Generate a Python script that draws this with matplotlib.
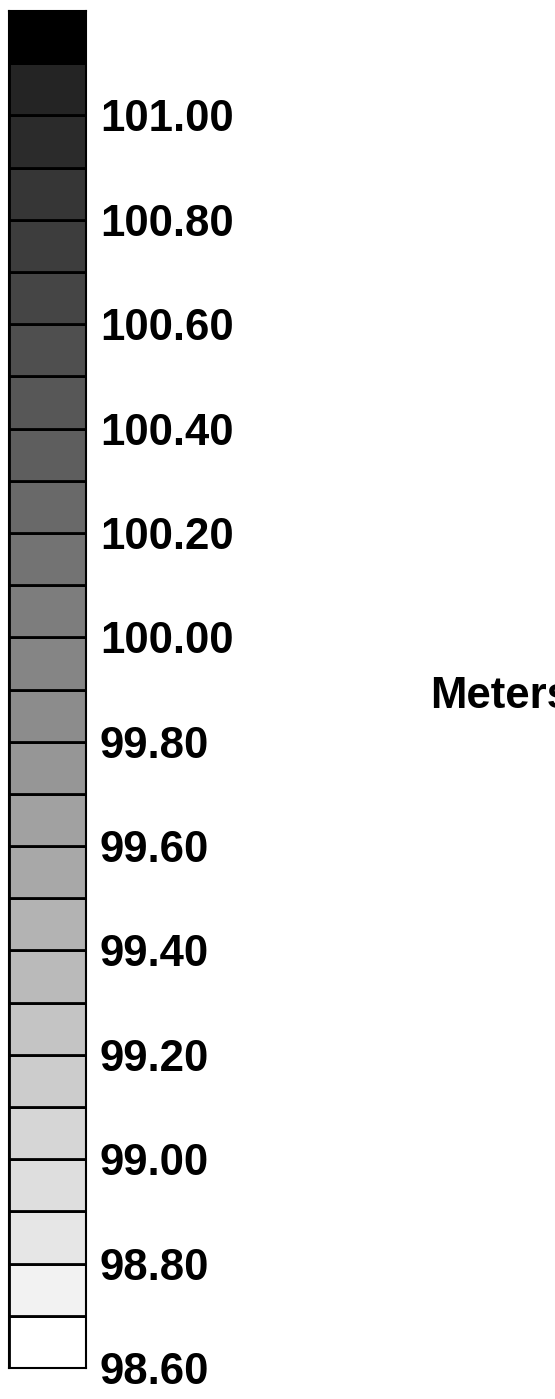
import matplotlib
matplotlib.use("Agg")
import matplotlib.pyplot as plt
import numpy as np

# band boundaries (meters), bottom to top
levels = [98.6, 98.7, 98.8, 98.9, 99.0, 99.1, 99.2, 99.3, 99.4, 99.5, 99.6,
          99.7, 99.8, 99.9, 100.0, 100.1, 100.2, 100.3, 100.4, 100.5, 100.6,
          100.7, 100.8, 100.9, 101.0, 101.1, 101.2]
# gray shade of each band, bottom to top (1 = white, 0 = black)
grays = [1.0, 0.95, 0.90, 0.87, 0.84, 0.80, 0.77, 0.73, 0.70, 0.66, 0.63,
         0.59, 0.55, 0.52, 0.49, 0.45, 0.41, 0.37, 0.34, 0.31, 0.27,
         0.24, 0.21, 0.17, 0.14, 0.0]
tick_vals = [98.6, 98.8, 99.0, 99.2, 99.4, 99.6, 99.8, 100.0, 100.2,
             100.4, 100.6, 100.8, 101.0]
tick_labels = ["%.2f" % v for v in tick_vals]

plt.rcParams['font.family'] = ['Liberation Sans', 'DejaVu Sans']

W, H = 555, 1399
fig = plt.figure(figsize=(W / 100, H / 100), dpi=100)
ax = fig.add_axes([9 / W, 31 / H, 77 / W, 1357 / H])

bottoms = np.array(levels[:-1])
heights = np.diff(levels)
ax.bar(0, heights, bottom=bottoms, width=1, color=[str(g) for g in grays],
       edgecolor="black", linewidth=2, align="edge")
ax.set_xlim(0, 1)
ax.set_ylim(levels[0], levels[-1])
ax.set_xticks([])
ax.yaxis.tick_right()
ax.set_yticks(tick_vals)
ax.set_yticklabels(tick_labels, fontsize=31.5, fontweight="bold")
ax.tick_params(axis="y", length=0, pad=10)
for s in ax.spines.values():
    s.set_linewidth(1.5)

# label sits partly past the right edge, as in the original
fig.text(430 / W, 1 - 697 / H, "Meters", fontsize=31.5, fontweight="bold",
         va="center", ha="left")

fig.savefig("out.png", dpi=100)
